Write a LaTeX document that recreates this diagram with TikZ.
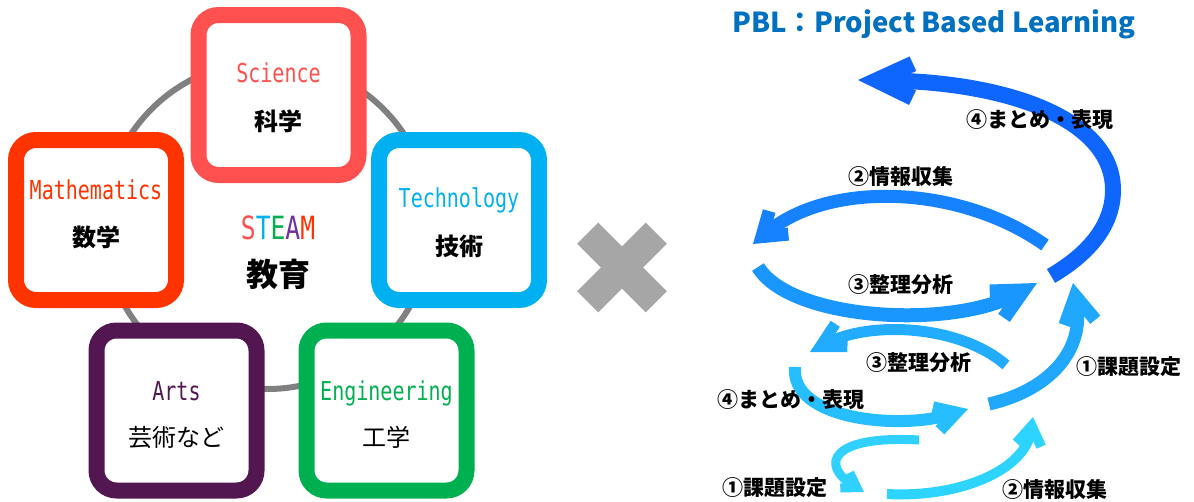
\documentclass[tikz,border=0pt]{standalone}
\usepackage{fontspec}
\usetikzlibrary{arrows.meta}
\newfontfamily\jpfont{Noto Sans CJK JP}
\newfontfamily\monofont[FakeStretch=0.77]{DejaVu Sans Mono}

\definecolor{scired}{HTML}{FF5050}
\definecolor{mathred}{HTML}{FF3300}
\definecolor{techblue}{HTML}{00B0F0}
\definecolor{artpurple}{HTML}{521750}
\definecolor{enggreen}{HTML}{00B050}
\definecolor{steampurple}{HTML}{7030A0}
\definecolor{pblblue}{HTML}{0070C0}
\definecolor{ringgray}{HTML}{808080}
\definecolor{crossgray}{HTML}{A6A6A6}
\definecolor{spiralA}{HTML}{0F66FF}
\definecolor{spiralB}{HTML}{1682FF}
\definecolor{spiralC}{HTML}{1A96FF}
\definecolor{spiralD}{HTML}{20A8FF}
\definecolor{spiralE}{HTML}{22ACFF}
\definecolor{spiralF}{HTML}{26BEFF}
\definecolor{spiralG}{HTML}{30D0FF}
\definecolor{spiralH}{HTML}{2CD4FF}

\tikzset{
  subject/.style={draw=#1, fill=white, line width=16pt, rounded corners=20pt,
    minimum width=160pt, minimum height=160pt, inner sep=0pt},
  eng/.style={text=#1, font=\monofont\fontsize{26}{30}\selectfont, inner sep=0pt,
    text height=19pt, text depth=0pt},
  jp/.style={font=\jpfont\bfseries\fontsize{24}{28}\selectfont, inner sep=0pt},
  jplight/.style={font=\jpfont\fontsize{24}{28}\selectfont, inner sep=0pt},
  tag/.style={font=\jpfont\bfseries\fontsize{21}{25}\selectfont, inner sep=0pt},
  ring/.style={draw=ringgray, line width=6pt},
  cross/.style={draw=crossgray, line width=30pt},
  spiral/.style={draw=#1},
}

\begin{document}
\begin{tikzpicture}[x=1pt, y=-1pt]
\useasboundingbox (0,0) rectangle (1194,501);

% STEAM
\draw[ring] (267.5,225) circle[radius=164pt];
\node[subject=scired] (sci) at (278.5,95) {};
\node[subject=mathred] (math) at (96,220) {};
\node[subject=techblue] (tech) at (459,220) {};
\node[subject=artpurple] (arts) at (176.5,410.5) {};
\node[subject=enggreen] (engi) at (386.5,410.5) {};

\node[eng=scired] (sciname) at ([yshift=22pt]sci.center) {Science};
\node[jp] (scijp) at ([yshift=-26pt]sci.center) {科学};
\node[eng=mathred] (mathname) at ([yshift=30pt]math.center) {Mathematics};
\node[jp] (mathjp) at ([yshift=-17pt]math.center) {数学};
\node[eng=techblue] (techname) at ([yshift=22pt]tech.center) {Technology};
\node[jp] (techjp) at ([yshift=-26pt]tech.center) {技術};
\node[eng=artpurple] (artsname) at ([yshift=20pt]arts.center) {Arts};
\node[jplight] (artsjp) at ([yshift=-27pt]arts.center) {芸術など};
\node[eng=enggreen] (enginame) at ([yshift=20pt]engi.center) {Engineering};
\node[jplight] (engijp) at ([yshift=-27pt]engi.center) {工学};

\node[font=\monofont\fontsize{32}{36}\selectfont, inner sep=0pt] (steam) at (278,228)
  {{\color{scired}S}{\color{techblue}T}{\color{enggreen}E}{\color{steampurple}A}{\color{mathred}M}};
\node[font=\jpfont\bfseries\fontsize{32}{36}\selectfont, inner sep=0pt] (edu) at (278,274) {教育};

% times
\draw[cross] (587.7,233.2) -- (656.3,301.8);
\draw[cross] (587.7,301.8) -- (656.3,233.2);

% PBL
\node[text=pblblue, font=\jpfont\bfseries\fontsize{27.5}{32}\selectfont, inner sep=0pt] (pbl) at (934,24)
  {PBL：Project Based Learning};

\draw[spiral=spiralA, line width=16pt, -{Straight Barb[length=36pt,width=34pt]}]
  (1051,276) .. controls (1085,256) and (1113,228) .. (1113,190)
  .. controls (1113,120) and (1010,82) .. (858,80);
\draw[spiral=spiralB, line width=13pt, -{Straight Barb[length=22pt,width=30pt]}]
  (1045,245) .. controls (960,185) and (830,180) .. (753,244);
\draw[spiral=spiralC, line width=14pt, -{Straight Barb[length=30pt,width=30pt]}]
  (758,267) .. controls (790,320) and (950,330) .. (1037,283);
\draw[spiral=spiralD, line width=13pt, -{Straight Barb[length=27pt,width=31pt]}]
  (989,404) .. controls (1050,390) and (1085,350) .. (1073,283);
\draw[spiral=spiralE, line width=11pt, -{Straight Barb[length=24pt,width=26pt]}]
  (1006,365) .. controls (960,325) and (870,320) .. (810,352);
\draw[spiral=spiralF, line width=12pt, -{Straight Barb[length=21pt,width=24pt]}]
  (795,367) .. controls (790,420) and (900,430) .. (968,409);
\draw[spiral=spiralG, line width=9pt, -{Straight Barb[length=14pt,width=18pt]}]
  (919,440) .. controls (830,435) and (820,465) .. (864,492);
\draw[spiral=spiralH, line width=10pt, -{Straight Barb[length=19pt,width=25pt]}]
  (887,494) .. controls (960,498) and (1025,470) .. (1033,417);

\node[tag] (sum1) at (1040,120) {④まとめ・表現};
\node[tag] (info1) at (901,177) {②情報収集};
\node[tag] (sort1) at (901,285) {③整理分析};
\node[tag] (task1) at (1129,367) {①課題設定};
\node[tag] (sort2) at (919,363) {③整理分析};
\node[tag] (sum2) at (791,400) {④まとめ・表現};
\node[tag] (task2) at (775,488) {①課題設定};
\node[tag] (info2) at (1055,490) {②情報収集};
\end{tikzpicture}
\end{document}
